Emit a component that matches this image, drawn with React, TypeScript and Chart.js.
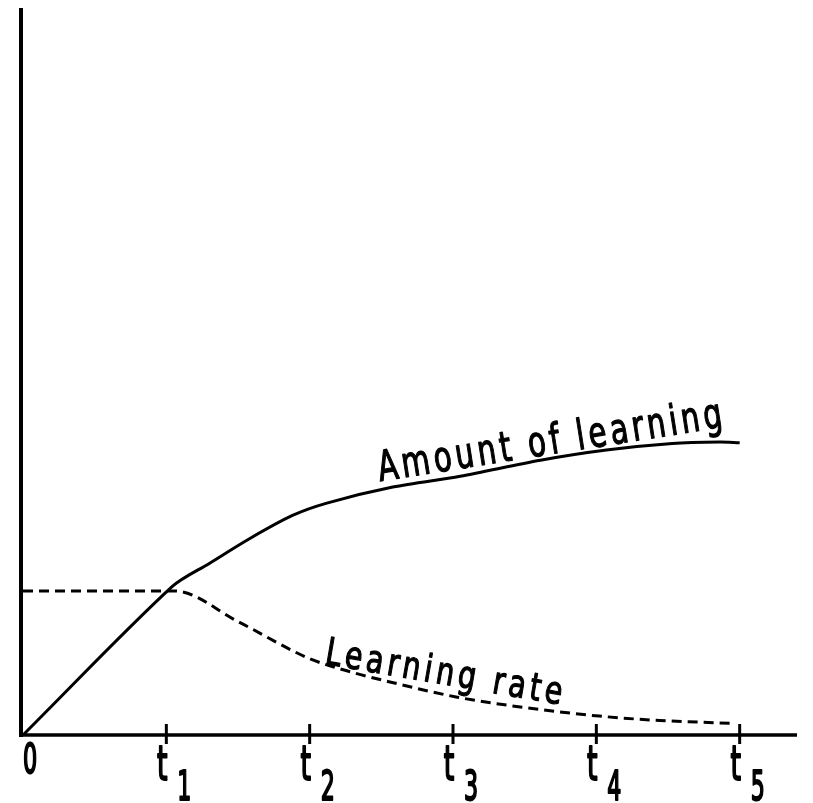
import React, { useEffect, useRef } from "react";
import { Chart, registerables } from "chart.js";

Chart.register(...registerables);

// x in units of t (t1..t5 = 1..5), y in arbitrary 0-100 units
const amountX = [0, 1.04, 1.3, 1.58, 1.88, 2.12, 2.58, 3.05, 3.61, 4.07, 4.53, 4.86, 5.0];
const amountY = [0, 20.4, 23.6, 27.0, 30.2, 31.9, 34.1, 35.6, 37.8, 39.2, 40.1, 40.3, 40.2];

const rateX = [0, 1.06, 1.5, 2.0, 2.3, 2.56, 3.03, 3.49, 4.02, 4.44, 4.95];
const rateY = [19.8, 19.8, 15.6, 10.5, 8.6, 7.3, 5.2, 3.8, 2.6, 2.0, 1.6];

const tickValues = [0, 1, 2, 3, 4, 5];
const tickMain = ["0", "t", "t", "t", "t", "t"];
const tickSub = ["", "1", "2", "3", "4", "5"];

const FONT = '"DejaVu Sans Condensed", "Liberation Sans Narrow", "DejaVu Sans", sans-serif';

function fillStroke(ctx: CanvasRenderingContext2D, text: string, x: number, y: number, sw: number) {
  ctx.fillText(text, x, y);
  ctx.lineWidth = sw;
  ctx.strokeStyle = "#000";
  ctx.lineJoin = "round";
  ctx.strokeText(text, x, y);
}

function drawFitText(ctx: CanvasRenderingContext2D, text: string, x: number, y: number, angleDeg: number, size: number, targetLen: number) {
  ctx.save();
  ctx.font = `${size}px ${FONT}`;
  (ctx as any).letterSpacing = "5px";
  const w = ctx.measureText(text).width;
  ctx.translate(x, y);
  ctx.rotate((angleDeg * Math.PI) / 180);
  ctx.scale(targetLen / w, 1);
  ctx.fillStyle = "#000";
  ctx.textAlign = "left";
  ctx.textBaseline = "alphabetic";
  fillStroke(ctx, text, 0, 0, 1.2);
  ctx.restore();
}

const decorPlugin = {
  id: "decor",
  afterDatasetsDraw(chart: any) {
    const ctx: CanvasRenderingContext2D = chart.ctx;
    const xs = chart.scales.x;
    const ys = chart.scales.y;
    const x0 = xs.getPixelForValue(0) - 2;
    const y0 = ys.getPixelForValue(0);
    const yTop = ys.getPixelForValue(100);
    const xEnd = xs.getPixelForValue(5.4);
    ctx.save();
    ctx.strokeStyle = "#000";
    ctx.lineCap = "butt";
    ctx.lineWidth = 4;
    ctx.beginPath();
    ctx.moveTo(x0, yTop);
    ctx.lineTo(x0, y0 + 2);
    ctx.stroke();
    ctx.lineWidth = 3.5;
    ctx.beginPath();
    ctx.moveTo(x0 - 2, y0);
    ctx.lineTo(xEnd, y0);
    ctx.stroke();
    ctx.lineWidth = 3;
    tickValues.forEach((v, i) => {
      if (i === 0) return;
      const px = xs.getPixelForValue(v);
      ctx.beginPath();
      ctx.moveTo(px, y0 - 11);
      ctx.lineTo(px, y0 + 9);
      ctx.stroke();
    });
    tickValues.forEach((v, i) => {
      const px = xs.getPixelForValue(v);
      ctx.fillStyle = "#000";
      ctx.textBaseline = "alphabetic";
      ctx.textAlign = "center";
      if (i === 0) {
        ctx.save();
        ctx.font = `40px ${FONT}`;
        ctx.translate(px + 7, y0 + 38);
        ctx.scale(0.62, 1);
        fillStroke(ctx, tickMain[i], 0, 0, 2);
        ctx.restore();
      } else {
        ctx.save();
        ctx.font = `48px ${FONT}`;
        ctx.translate(px - 4, y0 + 45);
        ctx.scale(0.62, 1);
        fillStroke(ctx, tickMain[i], 0, 0, 2);
        ctx.restore();
        ctx.save();
        ctx.font = `41px ${FONT}`;
        ctx.translate(px + 18, y0 + 65);
        ctx.scale(0.6, 1);
        fillStroke(ctx, tickSub[i], 0, 0, 2);
        ctx.restore();
      }
    });
    ctx.restore();
    drawFitText(ctx, "Amount of learning", xs.getPixelForValue(2.49), ys.getPixelForValue(34.9), -9, 42, 352);
    drawFitText(ctx, "Learning rate", xs.getPixelForValue(2.1), ys.getPixelForValue(9.8), 9.8, 38, 244);
  },
};

export default function App() {
  const ref = useRef<HTMLCanvasElement | null>(null);
  useEffect(() => {
    if (!ref.current) return;
    const chart = new Chart(ref.current, {
      type: "line",
      data: {
        datasets: [
          {
            label: "Amount of learning",
            data: amountX.map((x, i) => ({ x, y: amountY[i] })),
            borderColor: "#000",
            borderWidth: 3,
            pointRadius: 0,
            tension: 0.3,
            fill: false,
          },
          {
            label: "Learning rate",
            data: rateX.map((x, i) => ({ x, y: rateY[i] })),
            borderColor: "#000",
            borderWidth: 3,
            borderDash: [10, 6],
            pointRadius: 0,
            cubicInterpolationMode: "monotone",
            fill: false,
          },
        ],
      },
      options: {
        animation: false,
        responsive: false,
        layout: { padding: { left: 23, right: 16, top: 8, bottom: 68 } },
        plugins: { legend: { display: false }, tooltip: { enabled: false } },
        scales: {
          x: { type: "linear", min: 0, max: 5.4, display: false },
          y: { type: "linear", min: 0, max: 100, display: false },
        },
      },
      plugins: [decorPlugin],
    });
    return () => chart.destroy();
  }, []);
  return (
    <div style={{ position: "fixed", left: 0, top: 0, width: 813, height: 803, background: "#fff" }}>
      <canvas ref={ref} width={813} height={803} />
    </div>
  );
}
